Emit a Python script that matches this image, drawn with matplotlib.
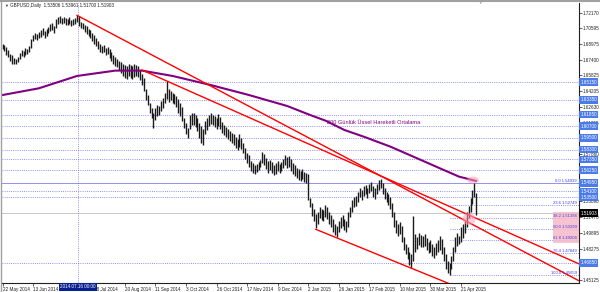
import matplotlib
matplotlib.use("Agg")
import matplotlib.pyplot as plt
import matplotlib.transforms as mtransforms
from matplotlib.patches import Ellipse, Rectangle

# daily bars, bar 0 = 22 May 2014, last bar = 30 Apr 2015
highs = [
    1.6905, 1.6890, 1.6870, 1.6840, 1.6800, 1.6785, 1.6760, 1.6750, 1.6770, 1.6810,
    1.6840, 1.6830, 1.6860, 1.6850, 1.6880, 1.6950, 1.6990, 1.7010, 1.7000, 1.7020,
    1.7040, 1.7060, 1.7030, 1.7050, 1.7070, 1.7100, 1.7110, 1.7080, 1.7150, 1.7170,
    1.7180, 1.7165, 1.7175, 1.7160, 1.7150, 1.7170, 1.7140, 1.7155, 1.7165, 1.7190,
    1.7185, 1.7120, 1.7110, 1.7090, 1.7080, 1.7050, 1.7040, 1.7010, 1.6990, 1.6960,
    1.6930, 1.6900, 1.6880, 1.6890, 1.6860, 1.6870, 1.6850, 1.6820, 1.6790, 1.6770,
    1.6750, 1.6730, 1.6720, 1.6700, 1.6690, 1.6680, 1.6700, 1.6690, 1.6680, 1.6700,
    1.6690, 1.6680, 1.6640, 1.6600, 1.6560, 1.6450, 1.6380, 1.6300, 1.6250, 1.6200,
    1.6250, 1.6280, 1.6270, 1.6320, 1.6350, 1.6400, 1.6525, 1.6440, 1.6420, 1.6400,
    1.6390, 1.6370, 1.6340, 1.6300, 1.6260, 1.6150, 1.6100, 1.6050, 1.6180, 1.6200,
    1.6200, 1.6180, 1.6150, 1.6100, 1.6070, 1.6040, 1.6120, 1.6150, 1.6180, 1.6200,
    1.6180, 1.6170, 1.6150, 1.6190, 1.6160, 1.6110, 1.6080, 1.6060, 1.6040, 1.6020,
    1.6000, 1.5990, 1.5960, 1.5940, 1.5990, 1.5950, 1.5900, 1.5850, 1.5800, 1.5780,
    1.5720, 1.5700, 1.5680, 1.5690, 1.5710, 1.5730, 1.5810, 1.5790, 1.5750, 1.5720,
    1.5730, 1.5710, 1.5680, 1.5700, 1.5720, 1.5690, 1.5710, 1.5740, 1.5780, 1.5760,
    1.5770, 1.5740, 1.5700, 1.5680, 1.5650, 1.5640, 1.5620, 1.5640, 1.5610, 1.5600,
    1.5590, 1.5340, 1.5290, 1.5230, 1.5180, 1.5200, 1.5250, 1.5230, 1.5220, 1.5270,
    1.5250, 1.5200, 1.5170, 1.5130, 1.5080, 1.5060, 1.5110, 1.5150, 1.5170, 1.5130,
    1.5110, 1.5200, 1.5250, 1.5320, 1.5350, 1.5360, 1.5400, 1.5440, 1.5420, 1.5460,
    1.5470, 1.5440, 1.5480, 1.5500, 1.5460, 1.5440, 1.5480, 1.5520, 1.5530, 1.5490,
    1.5440, 1.5400, 1.5380, 1.5350, 1.5290, 1.5200, 1.5120, 1.5080, 1.5100, 1.5060,
    1.4950, 1.4880, 1.4850, 1.4800, 1.4780, 1.5160, 1.4980, 1.4950, 1.4990, 1.4970,
    1.4960, 1.4980, 1.4940, 1.4900, 1.4920, 1.4880, 1.4850, 1.4890, 1.4920, 1.4960,
    1.4930, 1.4850, 1.4780, 1.4700, 1.4680, 1.4760, 1.4850, 1.4950, 1.4990, 1.4960,
    1.5050, 1.5080, 1.5110, 1.5200, 1.5260, 1.5340, 1.5420, 1.5494, 1.5396,
]
lows = [
    1.6850, 1.6830, 1.6790, 1.6770, 1.6730, 1.6700, 1.6693, 1.6700, 1.6720, 1.6750,
    1.6780, 1.6770, 1.6790, 1.6800, 1.6820, 1.6860, 1.6930, 1.6950, 1.6940, 1.6960,
    1.6970, 1.6990, 1.6960, 1.6980, 1.7010, 1.7030, 1.7040, 1.7010, 1.7060, 1.7100,
    1.7110, 1.7100, 1.7115, 1.7095, 1.7090, 1.7100, 1.7080, 1.7095, 1.7100, 1.7120,
    1.7080, 1.7060, 1.7050, 1.7020, 1.7000, 1.6980, 1.6960, 1.6930, 1.6900, 1.6880,
    1.6850, 1.6820, 1.6810, 1.6820, 1.6790, 1.6800, 1.6760, 1.6730, 1.6700, 1.6680,
    1.6670, 1.6640, 1.6610, 1.6580, 1.6560, 1.6550, 1.6580, 1.6560, 1.6545, 1.6570,
    1.6580, 1.6570, 1.6540, 1.6490, 1.6420, 1.6330, 1.6280, 1.6200, 1.6150, 1.6052,
    1.6130, 1.6170, 1.6180, 1.6220, 1.6250, 1.6300, 1.6340, 1.6310, 1.6330, 1.6300,
    1.6290, 1.6260, 1.6200, 1.6170, 1.6120, 1.6050, 1.5990, 1.5950, 1.6040, 1.6080,
    1.6080, 1.6060, 1.6020, 1.5950, 1.5900, 1.5875, 1.5990, 1.6030, 1.6070, 1.6090,
    1.6080, 1.6060, 1.6040, 1.6070, 1.6040, 1.6000, 1.5980, 1.5960, 1.5940, 1.5920,
    1.5900, 1.5880, 1.5850, 1.5830, 1.5860, 1.5840, 1.5800, 1.5740, 1.5700, 1.5660,
    1.5620, 1.5600, 1.5590, 1.5610, 1.5630, 1.5660, 1.5700, 1.5680, 1.5640, 1.5600,
    1.5630, 1.5600, 1.5570, 1.5590, 1.5620, 1.5600, 1.5620, 1.5650, 1.5680, 1.5650,
    1.5660, 1.5620, 1.5590, 1.5560, 1.5540, 1.5520, 1.5510, 1.5530, 1.5500, 1.5490,
    1.5320, 1.5250, 1.5160, 1.5110, 1.5040, 1.5080, 1.5140, 1.5120, 1.5110, 1.5150,
    1.5130, 1.5080, 1.5050, 1.5000, 1.4970, 1.4952, 1.5000, 1.5040, 1.5060, 1.5020,
    1.5000, 1.5050, 1.5150, 1.5200, 1.5250, 1.5260, 1.5300, 1.5350, 1.5320, 1.5360,
    1.5380, 1.5340, 1.5390, 1.5410, 1.5350, 1.5330, 1.5380, 1.5420, 1.5440, 1.5380,
    1.5330, 1.5300, 1.5270, 1.5230, 1.5150, 1.5050, 1.4990, 1.4960, 1.4980, 1.4900,
    1.4820, 1.4780, 1.4720, 1.4660, 1.4634, 1.4700, 1.4800, 1.4830, 1.4870, 1.4850,
    1.4850, 1.4860, 1.4820, 1.4790, 1.4800, 1.4760, 1.4740, 1.4770, 1.4800, 1.4820,
    1.4780, 1.4700, 1.4620, 1.4580, 1.4565, 1.4620, 1.4700, 1.4800, 1.4860, 1.4880,
    1.4900, 1.4940, 1.4990, 1.5050, 1.5140, 1.5200, 1.5280, 1.5350, 1.5170,
]

# 200-day EMA read at a few bars
ema_bar = [0, 19, 39, 59, 73, 89, 109, 129, 149, 161, 169, 179, 189, 203, 219, 229, 239, 248]
ema_val = [1.6384, 1.6452, 1.6577, 1.6631, 1.6631, 1.6577, 1.6485, 1.6384, 1.6273,
           1.6182, 1.6125, 1.6030, 1.5963, 1.5862, 1.5727, 1.5642, 1.5558, 1.5514]

# time axis labels (the one at bar 32 sits under the cursor box)
date_bar = [0, 16, 32, 48, 64, 80, 96, 112, 128, 144, 160, 176, 192, 208, 224, 240]
date_text = ["22 May 2014", "13 Jun 2014", "", "28 Jul 2014", "20 Aug 2014",
             "11 Sep 2014", "3 Oct 2014", "26 Oct 2014", "17 Nov 2014", "9 Dec 2014",
             "2 Jan 2015", "26 Jan 2015", "17 Feb 2015", "10 Mar 2015", "30 Mar 2015",
             "21 Apr 2015"]

yticks = [1.72170, 1.70595, 1.68975, 1.67400, 1.65825, 1.64205, 1.62630, 1.61055,
          1.57860, 1.53090, 1.51470, 1.49895, 1.48275, 1.45125]

# horizontal lines drawn by the user
hlines = [1.65150, 1.63350, 1.61850, 1.60700, 1.59500, 1.58300, 1.57350, 1.56250,
          1.54100, 1.53500, 1.46850]
hline_solid = 1.54950

# fibo retracement
fib_start_bar = 234
fib_top, fib_bottom = 1.54939, 1.45659
fib_levels = [0.0, 23.6, 38.2, 50.0, 61.8, 76.4, 100.0]

# trend lines: (bar, price) anchors, drawn as rays to the right
trend_lines = [
    ((39, 1.7190), (301, 1.4512)),
    ((73, 1.6637), (301, 1.4682)),
    ((164, 1.5025), (232, 1.4490)),
]

title = "GBPUSD,Daily  1.53506 1.53961 1.51700 1.51903"
last_price = 1.51903
cursor_bar = 39.4
cursor_text = "2014.07.16 00:00"
ema_text = "200 Günlük Üssel Hareketli Ortalama"

W, H = 600, 292
FONT = ["Liberation Sans", "DejaVu Sans"]
plt.rcParams["font.family"] = FONT

fig = plt.figure(figsize=(W / 100, H / 100), dpi=100)
fig.patch.set_facecolor("white")
ax = fig.add_axes([2 / W, 1 - 283 / H, (578.5 - 2) / W, (283 - 3) / H])
XMAX = 301.5
ax.set_xlim(-0.3, XMAX)
ax.set_ylim(1.44821, 1.73151)


def px(x, y):
    # reference pixel (top-left origin) -> data coords
    return ax.transData.inverted().transform((x, H - y))


# user lines
for v in hlines:
    ax.axhline(v, color="#6b6bf0", lw=0.6, ls=(0, (1, 1.6)), zorder=1)
ax.axhline(hline_solid, color="#9090f0", lw=0.7, zorder=1)
ax.axhline(last_price, color="#c8c8c8", lw=0.7, zorder=1)
ax.axvline(cursor_bar, color="#7070d0", lw=0.6, ls=(0, (1, 1.6)), zorder=1)

# fibo levels
rng = fib_top - fib_bottom
for lev in fib_levels:
    p = fib_top - rng * lev / 100
    if lev > 0:
        ax.plot([fib_start_bar, XMAX], [p, p], color="#6b6bf0", lw=0.6,
                ls=(0, (1, 1.6)), zorder=1)
    x0, y0 = px(577, 0)
    ax.text(x0, p, f"{lev:.1f} {p:.5f}", ha="right", va="bottom", fontsize=3.0,
            color="#3c3ce0", zorder=6)

# pink zone on the right
(rx0, ry0), (rx1, ry1) = px(553, 243), px(578.5, 212)
ax.add_patch(Rectangle((rx0, ry0), rx1 - rx0, ry1 - ry0, fc="#f7b9c8", ec="none",
                       alpha=0.85, zorder=4))

# bars
ax.vlines(range(len(highs)), lows, highs, color="#1a1a1a", lw=1.0, zorder=3)

# EMA
ax.plot(ema_bar, ema_val, color="#800080", lw=1.5, zorder=3, solid_capstyle="round")
ex, ey = px(327, 122.5)
ax.text(ex, ey, ema_text, fontsize=4.1, color="#800080", va="center", ha="left", zorder=6)

# trend lines
for (b0, p0), (b1, p1) in trend_lines:
    slope = (p1 - p0) / (b1 - b0)
    ax.plot([b0, XMAX], [p0, p0 + slope * (XMAX - b0)], color="#ff0000", lw=1.0, zorder=4)

# pink marks
for (cx, cy, w, h) in [(473, 180, 12, 7), (469, 219, 13, 12)]:
    (x0, y0), (x1, y1) = px(cx - w / 2, cy + h / 2), px(cx + w / 2, cy - h / 2)
    ax.add_patch(Ellipse(((x0 + x1) / 2, (y0 + y1) / 2), x1 - x0, y1 - y0,
                         fc="#ff9fb4", ec="none", alpha=0.55, zorder=5))

# axes styling
for side in ["top", "left"]:
    ax.spines[side].set_visible(False)
for side in ["right", "bottom"]:
    ax.spines[side].set_color("#202020")
    ax.spines[side].set_linewidth(0.8)
ax.yaxis.tick_right()
ax.set_yticks(yticks)
ax.set_yticklabels([f"{v:.5f}" for v in yticks])
ax.tick_params(axis="y", labelsize=3.3, length=2, width=0.5, pad=1, colors="#202020")
ax.set_xticks(date_bar)
ax.set_xticklabels(date_text)
ax.tick_params(axis="x", labelsize=3.3, length=2, width=0.5, pad=1, colors="#202020")
for lbl in ax.get_xticklabels():
    lbl.set_ha("left")

blend = mtransforms.blended_transform_factory(ax.transAxes, ax.transData)
for v in hlines + [hline_solid]:
    ax.text(1.003, v, f"{v:.5f}", transform=blend, ha="left", va="center", fontsize=3.3,
            color="white", zorder=7, clip_on=False,
            bbox=dict(boxstyle="square,pad=0.25", fc="#4a7be8", ec="none"))
ax.text(1.003, last_price, f"{last_price:.5f}", transform=blend, ha="left", va="center",
        fontsize=3.3, color="white", zorder=7, clip_on=False,
        bbox=dict(boxstyle="square,pad=0.25", fc="black", ec="none"))

# cursor date box
cx_fig = ax.transData.transform((cursor_bar, 0))[0] / W
fig.text(cx_fig, 1 - 287 / H, cursor_text, ha="center", va="center", fontsize=3.3,
         color="white", zorder=8,
         bbox=dict(boxstyle="square,pad=0.3", fc="#0a1f8f", ec="none"))

# title and window frame
fig.text(4 / W, 1 - 6 / H, "\u25bc", fontsize=2.8, color="#303030", va="center")
fig.text(10 / W, 1 - 6 / H, title, fontsize=3.3, color="#202020", va="center")
fig.text(480 / W, 1 - 3 / H, "\u25bc", fontsize=2.5, color="#909090", va="center", ha="center")
fig.add_artist(plt.Line2D([0, 1], [1 - 1 / H, 1 - 1 / H], color="#a0a0a0", lw=1.5))
fig.add_artist(plt.Line2D([1 / W, 1 / W], [0, 1], color="#a0a0a0", lw=1.0))

fig.savefig("out.png", dpi=100)
